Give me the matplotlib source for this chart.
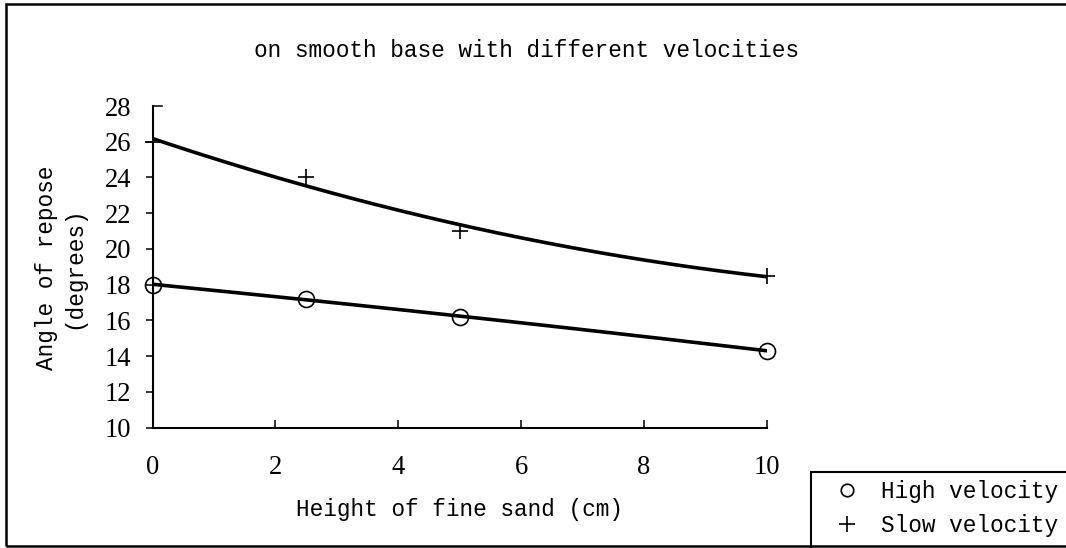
import numpy as np
import matplotlib
matplotlib.use("Agg")
import matplotlib.pyplot as plt
from matplotlib.lines import Line2D
from matplotlib.patches import Rectangle

plt.rcParams['font.family'] = ['Liberation Mono', 'DejaVu Sans Mono']
FS = 16.4     # text size
TFS = 19.2    # tick numbers

# angle of repose measurements
height = [0, 2.5, 5, 10]           # height of fine sand (cm)
high_vel = [18, 17.2, 16.2, 14.3]  # degrees
slow_vel = [26, 24, 21, 18.5]      # degrees

W, H = 1066, 548
fig = plt.figure(figsize=(W / 100, H / 100), dpi=100)
ax = fig.add_axes([152.5 / W, 1 - 427.5 / H, 614.5 / W, 321.5 / H])

# 2nd order polynomial trend lines through each series
xs = np.linspace(0, 10, 300)
for vals, mk, ms in [(slow_vel, '+', 12), (high_vel, 'o', 11.5)]:
    coef = np.polyfit(height, vals, 2)
    ax.plot(xs, np.polyval(coef, xs), color='black', lw=2.6, zorder=2)
    ax.plot(height, vals, linestyle='none', marker=mk, markersize=ms,
            markerfacecolor='none', markeredgecolor='black',
            markeredgewidth=1.2, clip_on=False, zorder=3)

ax.set_xlim(0, 10)
ax.set_ylim(10, 28)
ax.set_xticks(np.arange(0, 11, 2))
ax.set_yticks(np.arange(10, 29, 2))

for s in ['top', 'right']:
    ax.spines[s].set_visible(False)
for s in ['left', 'bottom']:
    ax.spines[s].set_linewidth(1.5)

ax.tick_params(axis='x', direction='in', length=5.5, width=1.1, pad=20, labelsize=TFS)
ax.tick_params(axis='y', direction='out', length=5, width=1.1, pad=10.5, labelsize=TFS)
for lab in ax.get_xticklabels() + ax.get_yticklabels():
    lab.set_fontfamily(['Liberation Serif', 'DejaVu Serif'])
# the top of the value axis gets an inward cap instead of an outward tick
ax.yaxis.get_major_ticks()[-1].tick1line.set_visible(False)
ax.plot([0, 9 / 614.5], [1, 1], transform=ax.transAxes, color='black',
        lw=1.1, clip_on=False)

ax.set_xlabel('Height of fine sand (cm)', fontsize=FS, labelpad=13)
fig.text(60 / W, 1 - 268 / H, 'Angle of repose\n(degrees)', rotation=90,
         ha='center', va='center', multialignment='center', fontsize=FS,
         linespacing=1.2)

fig.text(527 / W, 1 - 57 / H, 'on smooth base with different velocities',
         ha='center', va='baseline', fontsize=FS)

# legend
handles = [
    Line2D([], [], linestyle='none', marker='o', markersize=9,
           markerfacecolor='none', markeredgecolor='black', markeredgewidth=1.2),
    Line2D([], [], linestyle='none', marker='+', markersize=11,
           markeredgecolor='black', markeredgewidth=1.2),
]
fig.legend(handles, ['High velocity', 'Slow velocity'], loc='upper left',
           bbox_to_anchor=(811 / W, 1 - 472 / H), borderaxespad=0,
           frameon=False, fontsize=FS, borderpad=0.36, handlelength=2.4,
           handletextpad=0.3, labelspacing=0.48)
fig.patches.append(Rectangle((811 / W, -0.05), 0.3, 1.05 - 472 / H,
                             transform=fig.transFigure, fill=False,
                             edgecolor='black', lw=1.5))

# chart area border
fig.patches.append(Rectangle((6 / W, 1 - 546 / H), 1.1, (546 - 4) / H,
                             transform=fig.transFigure, fill=False,
                             edgecolor='black', lw=1.8))

fig.savefig('out.png', dpi=100)
